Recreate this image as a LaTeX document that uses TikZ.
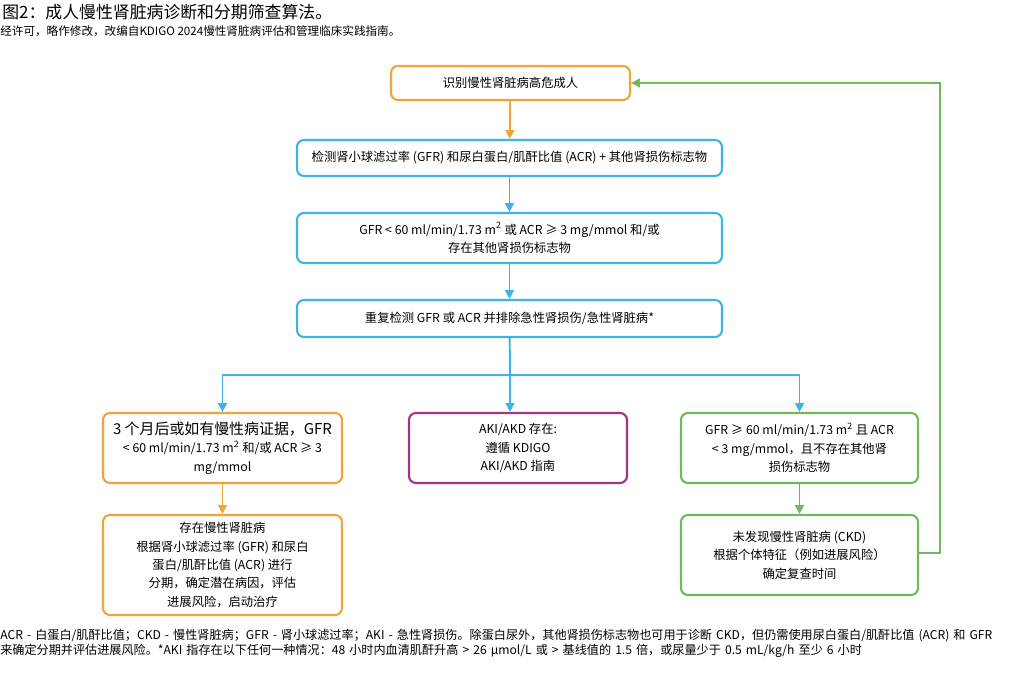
\documentclass[tikz,border=0pt]{standalone}
\usepackage{fontspec}
\setmainfont{Noto Sans CJK SC}
\usetikzlibrary{arrows.meta}
\definecolor{ckdorange}{HTML}{F2A33A}
\definecolor{ckdblue}{HTML}{3CB4E5}
\definecolor{ckdpurple}{HTML}{A3367F}
\definecolor{ckdgreen}{HTML}{72B85C}
\tikzset{
    box/.style={draw, rounded corners=4pt, line width=1.2pt, align=center, inner sep=0pt, font=\fontsize{7}{10.5}\selectfont},
    flow/.style={line width=1.1pt, -{Triangle[length=5pt,width=5pt]}},
}
\begin{document}
\begin{tikzpicture}[x=0.02cm, y=-0.02cm]
    \useasboundingbox (0, 0) rectangle (1024, 688);
    % heading
    \node[anchor=north west, inner sep=0pt, font=\fontsize{9.6}{11}\selectfont] (title) at (2, 4) {图2：成人慢性肾脏病诊断和分期筛查算法。};
    \node[anchor=north west, inner sep=0pt, font=\fontsize{6.6}{8}\selectfont] (source) at (0, 25) {经许可，略作修改，改编自KDIGO 2024慢性肾脏病评估和管理临床实践指南。};
    % main column
    \node[box, draw=ckdorange, minimum width=239*0.02cm, minimum height=34*0.02cm] (risk) at (510.5, 83) {识别慢性肾脏病高危成人};
    \node[box, draw=ckdblue, minimum width=425*0.02cm, minimum height=36*0.02cm] (test) at (509.5, 158) {检测肾小球滤过率 (GFR) 和尿白蛋白/肌酐比值 (ACR) + 其他肾损伤标志物};
    \node[box, draw=ckdblue, minimum width=425*0.02cm, minimum height=50*0.02cm] (abnormal) at (509.5, 238) {GFR < 60 ml/min/1.73 m\textsuperscript{2} 或 ACR ≥ 3 mg/mmol 和/或\\存在其他肾损伤标志物};
    \node[box, draw=ckdblue, minimum width=425*0.02cm, minimum height=37*0.02cm] (repeat) at (509.5, 318.5) {重复检测 GFR 或 ACR 并排除急性肾损伤/急性肾脏病*};
    % branches
    \node[box, draw=ckdorange, minimum width=239*0.02cm, minimum height=70*0.02cm] (chronic) at (222.5, 448) {{\fontsize{8.5}{10.5}\selectfont 3 个月后或如有慢性病证据，GFR}\\< 60 ml/min/1.73 m\textsuperscript{2} 和/或 ACR ≥ 3\\mg/mmol};
    \node[box, draw=ckdpurple, minimum width=218*0.02cm, minimum height=70*0.02cm] (aki) at (518, 448) {AKI/AKD 存在:\\遵循 KDIGO\\AKI/AKD 指南};
    \node[box, draw=ckdgreen, minimum width=237*0.02cm, minimum height=70*0.02cm] (normal) at (799.5, 448) {GFR ≥ 60 ml/min/1.73 m\textsuperscript{2} 且 ACR\\< 3 mg/mmol，且不存在其他肾\\损伤标志物};
    \node[box, draw=ckdorange, minimum width=239*0.02cm, minimum height=100*0.02cm] (stage) at (222.5, 565) {存在慢性肾脏病\\根据肾小球滤过率 (GFR) 和尿白\\蛋白/肌酐比值 (ACR) 进行\\分期，确定潜在病因，评估\\进展风险，启动治疗};
    \node[box, draw=ckdgreen, minimum width=237*0.02cm, minimum height=80*0.02cm] (noCKD) at (799.5, 555) {未发现慢性肾脏病 (CKD)\\根据个体特征（例如进展风险）\\确定复查时间};
    % connectors
    \coordinate (split) at (510, 375);
    \coordinate (loopA) at (940, 553);
    \coordinate (loopB) at (940, 83);
    \draw[flow, ckdorange] (risk) -- (test);
    \draw[flow, ckdblue] (test) -- (abnormal);
    \draw[flow, ckdblue] (abnormal) -- (repeat);
    \draw[line width=1.1pt, ckdblue] (repeat) -- (split);
    \draw[flow, ckdblue] (split) -- (aki.north -| split);
    \draw[flow, ckdblue] (split) -| (chronic.north);
    \draw[flow, ckdblue] (split) -| (normal.north);
    \draw[flow, ckdorange] (chronic) -- (stage);
    \draw[flow, ckdgreen] (normal) -- (noCKD);
    \draw[flow, ckdgreen] (noCKD.east |- loopA) -- (loopA) -- (loopB) -- (risk.east);
    % footnote
    \node[anchor=north west, inner sep=0pt, align=left, text width=1022*0.02cm, font=\fontsize{6.9}{8.6}\selectfont] (notes) at (0, 629) {ACR - 白蛋白/肌酐比值；CKD - 慢性肾脏病；GFR - 肾小球滤过率；AKI - 急性肾损伤。除蛋白尿外，其他肾损伤标志物也可用于诊断 CKD，但仍需使用尿白蛋白/肌酐比值 (ACR) 和 GFR 来确定分期并评估进展风险。*AKI 指存在以下任何一种情况：48 小时内血清肌酐升高 > 26 μmol/L 或 > 基线值的 1.5 倍，或尿量少于 0.5 mL/kg/h 至少 6 小时};
\end{tikzpicture}
\end{document}
